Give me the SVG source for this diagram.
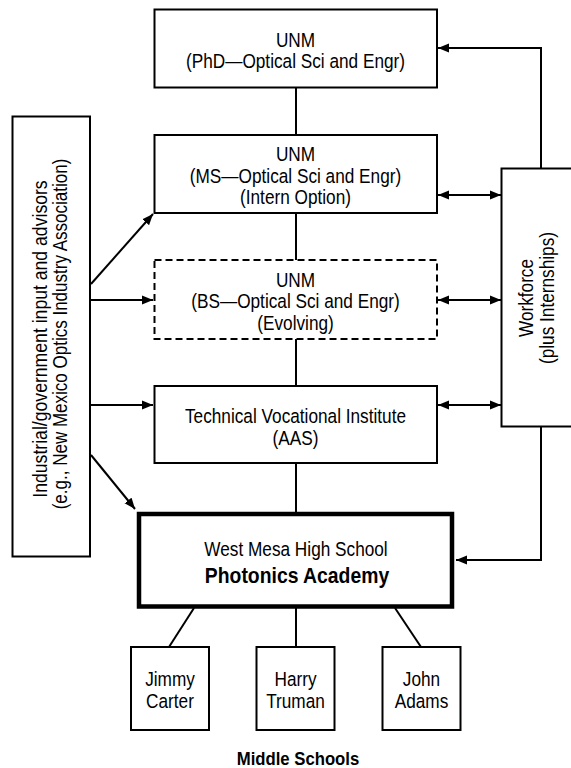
<svg xmlns="http://www.w3.org/2000/svg" width="571" height="768" viewBox="0 0 571 768">
<defs>
<style>
.box{fill:#fff;stroke:#000;stroke-width:2}
.dash{stroke-dasharray:7 4}
.thick{stroke-width:4.5}
.t{font-family:"Liberation Sans",Arial,sans-serif;font-size:20.5px;fill:#000;text-anchor:middle}
.b{font-weight:bold;font-size:22px}
.mb{font-weight:bold;font-size:19px}
.c{fill:none;stroke:#000;stroke-width:2}
</style>
<marker id="ah" markerUnits="userSpaceOnUse" markerWidth="12" markerHeight="10" refX="11" refY="5" orient="auto-start-reverse">
<path d="M0,0.5 L11,5 L0,9.5 z" fill="#000"/>
</marker>
</defs>
<rect width="571" height="768" fill="#fff"/>
<g id="connectors">
<path class="c" d="M296,88 V135"/>
<path class="c" d="M296,213 V260"/>
<path class="c" d="M296,339 V386"/>
<path class="c" d="M296,463 V512"/>
<path class="c" d="M541,168 V48 H438" marker-end="url(#ah)"/>
<path class="c" d="M541,427 V560 H456" marker-end="url(#ah)"/>
<path class="c" d="M438,195 H501" marker-start="url(#ah)" marker-end="url(#ah)"/>
<path class="c" d="M438,300 H501" marker-start="url(#ah)" marker-end="url(#ah)"/>
<path class="c" d="M438,405 H501" marker-start="url(#ah)" marker-end="url(#ah)"/>
<path class="c" d="M90,300 H153" marker-end="url(#ah)"/>
<path class="c" d="M90,405 H153" marker-end="url(#ah)"/>
<path class="c" d="M91,284 L153,214" marker-end="url(#ah)"/>
<path class="c" d="M91,455 L135,509" marker-end="url(#ah)"/>
<path class="c" d="M194,608 L169,647"/>
<path class="c" d="M296,608 V647"/>
<path class="c" d="M395,608 L421,647"/>
</g>
<g id="phd">
<rect class="box" x="154.5" y="9.5" width="282.5" height="78"/>
<text class="t" transform="translate(295.5,46.5) scale(0.84,1)">UNM</text>
<text class="t" transform="translate(295.5,68) scale(0.84,1)">(PhD—Optical Sci and Engr)</text>
</g>
<g id="ms">
<rect class="box" x="154.5" y="135" width="282.5" height="78"/>
<text class="t" transform="translate(295.5,161) scale(0.84,1)">UNM</text>
<text class="t" transform="translate(295.5,182.5) scale(0.84,1)">(MS—Optical Sci and Engr)</text>
<text class="t" transform="translate(295.5,204) scale(0.84,1)">(Intern Option)</text>
</g>
<g id="bs">
<rect class="box dash" x="154.5" y="260" width="282.5" height="79"/>
<text class="t" transform="translate(295.5,286.5) scale(0.84,1)">UNM</text>
<text class="t" transform="translate(295.5,308) scale(0.84,1)">(BS—Optical Sci and Engr)</text>
<text class="t" transform="translate(295.5,329.5) scale(0.84,1)">(Evolving)</text>
</g>
<g id="tvi">
<rect class="box" x="154.5" y="386" width="282.5" height="77"/>
<text class="t" transform="translate(295.5,423) scale(0.84,1)">Technical Vocational Institute</text>
<text class="t" transform="translate(295.5,444.5) scale(0.84,1)">(AAS)</text>
</g>
<g id="hs">
<rect class="box thick" x="139" y="514" width="313" height="92.5"/>
<text class="t" transform="translate(296,556) scale(0.84,1)">West Mesa High School</text>
<text class="t b" transform="translate(297,582.5) scale(0.88,1)">Photonics Academy</text>
</g>
<g id="industry">
<rect class="box" x="12.5" y="116.5" width="77.5" height="440"/>
<text class="t" transform="translate(46.5,339) rotate(-90) scale(0.86,1)">Industrial/government input and advisors</text>
<text class="t" transform="translate(66.5,334) rotate(-90) scale(0.83,1)">(e.g., New Mexico Optics Industry Association)</text>
</g>
<g id="workforce">
<rect class="box" x="501.5" y="168.5" width="90" height="258"/>
<text class="t" transform="translate(533,298) rotate(-90) scale(0.84,1)">Workforce</text>
<text class="t" transform="translate(553.5,298) rotate(-90) scale(0.84,1)">(plus Internships)</text>
</g>
<g id="carter">
<rect class="box" x="131" y="647" width="78" height="83"/>
<text class="t" transform="translate(170,686) scale(0.84,1)">Jimmy</text>
<text class="t" transform="translate(170,707.5) scale(0.84,1)">Carter</text>
</g>
<g id="truman">
<rect class="box" x="256.5" y="647" width="78" height="83"/>
<text class="t" transform="translate(295.5,686) scale(0.84,1)">Harry</text>
<text class="t" transform="translate(295.5,707.5) scale(0.84,1)">Truman</text>
</g>
<g id="adams">
<rect class="box" x="382.5" y="647" width="78" height="83"/>
<text class="t" transform="translate(421.5,686) scale(0.84,1)">John</text>
<text class="t" transform="translate(421.5,707.5) scale(0.84,1)">Adams</text>
</g>
<g id="caption">
<text class="t mb" transform="translate(298,764.5) scale(0.88,1)">Middle Schools</text>
</g>
</svg>
